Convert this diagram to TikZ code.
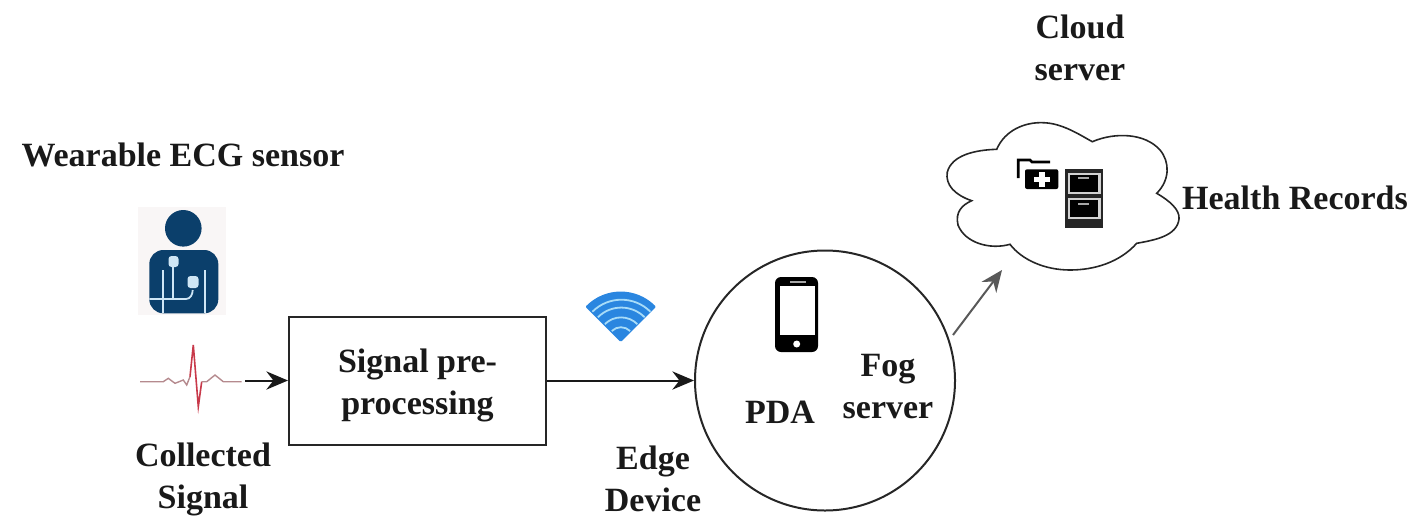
\documentclass[tikz,border=0pt]{standalone}
\usepackage{fontspec}
\setmainfont{Liberation Serif}
\usepackage{xcolor}
\usepackage{tikz}
\usetikzlibrary{arrows.meta,positioning,calc}
\definecolor{personblue}{HTML}{0B3F6B}
\definecolor{personback}{HTML}{F9F6F6}
\definecolor{personline}{HTML}{CFE6F5}
\definecolor{ecgred}{HTML}{C8394A}
\definecolor{ecggray}{HTML}{B58A8E}
\definecolor{wifiblue}{HTML}{2A86E0}
\definecolor{wifilight}{HTML}{A8DCF8}

\begin{document}
\begin{tikzpicture}[
x=.5pt,
y=-.5pt,
every node/.style={font=\bfseries\fontsize{17}{21}\selectfont,text=black!90},
sigbox/.style={rectangle,draw=black!85,line width=1pt,minimum width=128.5pt,minimum height=64pt,align=center,inner sep=0pt},
sigcircle/.style={circle,draw=black!85,line width=1pt,minimum size=130pt,inner sep=0pt},
siglbl/.style={align=center,inner sep=0pt},
sigarr/.style={-{Stealth[length=3.8mm,width=3.2mm]},line width=1pt,draw=black!90},
sigarrgray/.style={-{Stealth[length=3.8mm,width=3.2mm]},line width=1pt,draw=black!65},
cloudline/.style={draw=black!85,line width=.8pt},
personcut/.style={draw=personline,line width=.9pt},
wifiband/.style={draw=wifilight,line width=.9pt}
]
\useasboundingbox (0,0) rectangle (1417,525);

\node[siglbl] (sensorlbl) at (183,155) {Wearable ECG sensor};
\node[siglbl] (collectlbl) at (203,479) {Collected\\Signal};
\node[sigbox] (prep) at (417.5,380.5) {\rule{0pt}{16.5pt}Signal pre-\\processing};
\node[siglbl] (edgelbl) at (653,479) {Edge\\Device};
\node[sigcircle] (fog) at (825,380.5) {};
\node[siglbl] (pdalbl) at (780,412) {PDA};
\node[siglbl] (foglbl) at (888,387) {Fog\\server};
\node[siglbl] (cloudlbl) at (1080,48) {Cloud\\server};
\node[siglbl] (recordlbl) at (1295,198) {Health Records};

\coordinate (ecgout) at (245,380.5);
\coordinate (fogout) at (953,335);
\coordinate (cloudin) at (1002,270);

\draw[sigarr] (ecgout) -- (prep.west);
\draw[sigarr] (prep.east) -- (fog.west);
\draw[sigarrgray] (fogout) -- (cloudin);

\fill[personback] (138,207) rectangle (226,315);
\fill[personblue] (183.3,228.3) circle (18.3);
\fill[personblue,rounded corners=7pt] (149.3,313.3) -- (149.3,250) -- (218.3,250) -- (218.3,313.3) -- cycle;
\draw[personcut] (162.7,270) -- (162.7,313.3);
\draw[personcut] (205,270) -- (205,313.3);
\draw[personcut] (149.3,299) -- (186,299) to[out=0,in=-90] (192.7,290);
\draw[personcut] (173.3,265) -- (173.3,299);
\fill[personline,rounded corners=1.5pt] (168.5,256) rectangle (178.5,267);
\fill[personline,rounded corners=1.5pt] (187.5,276) rectangle (198.5,288);

\draw[ecggray,line width=.7pt] (140,381.7) -- (163.3,381.7) -- (168.3,378.3) -- (175,383.3) -- (183.3,380) -- (186.7,385) -- (190,376.7);
\draw[ecgred,line width=.8pt] (190,376.7) -- (193.3,345) -- (198.3,406.7) -- (201.7,381.7);
\draw[ecggray,line width=.7pt] (201.7,381.7) -- (206.7,381.7) -- (215,375) -- (223.3,381.7) -- (241.7,381.7);

\fill[wifiblue,draw=wifiblue,line width=1.5pt,line join=round] (620.7,340) -- ++(-33.2,-33.2) arc[start angle=225,end angle=315,radius=47] -- cycle;
\foreach \bandr in {13,23,33,41}{
\draw[wifiband] ($(620.7,340)+(-.69*\bandr,-.69*\bandr)$) arc[start angle=225,end angle=315,radius=\bandr];
}

\fill[black,rounded corners=3pt] (775,277) rectangle (818,352);
\fill[white] (779.5,286) rectangle (814.5,335);
\fill[gray!70] (790,280.5) rectangle (806,283);
\fill[white] (796.7,344) circle (3.5);

\path[cloudline] (996.7,149.3) .. controls (1005,130) and (1025,122) .. (1043,122.7)
.. controls (1062,123) and (1080,135) .. (1092.3,141.7)
.. controls (1115,132) and (1145,133) .. (1160,150)
.. controls (1170,162) and (1170,180) .. (1156.7,193.3)
.. controls (1170,201) and (1180,210) .. (1179,219)
.. controls (1177,236) and (1155,240) .. (1136.7,243.3)
.. controls (1120,262) and (1095,270) .. (1070,270)
.. controls (1045,270) and (1022,260) .. (1010,244.3)
.. controls (990,250) and (965,243) .. (958,225)
.. controls (955,212) and (962,205) .. (971.7,200.7)
.. controls (955,195) and (945,185) .. (947.3,172)
.. controls (952,155) and (975,150) .. cycle;

\draw[black,line width=1.4pt] (1018.3,178) -- (1018.3,160) -- (1030,160) -- (1032,162) -- (1050,162);
\fill[black,rounded corners=1pt] (1025,169.3) rectangle (1058.3,189);
\fill[white] (1038.7,171.5) rectangle (1044.7,187);
\fill[white] (1033.5,176.5) rectangle (1050,182.2);

\fill[black!85] (1065,169.3) rectangle (1103.3,227.7);
\fill[gray!35] (1067.5,172.5) rectangle (1100.8,194);
\fill[gray!35] (1067.5,198) rectangle (1100.8,219);
\fill[black] (1070,175) rectangle (1098.3,191.7);
\fill[black] (1070,200) rectangle (1098.3,216.7);
\fill[gray!70] (1078.3,176.7) rectangle (1089.3,179.3);
\fill[gray!70] (1078.3,202.7) rectangle (1089.3,205.3);
\end{tikzpicture}
\end{document}
